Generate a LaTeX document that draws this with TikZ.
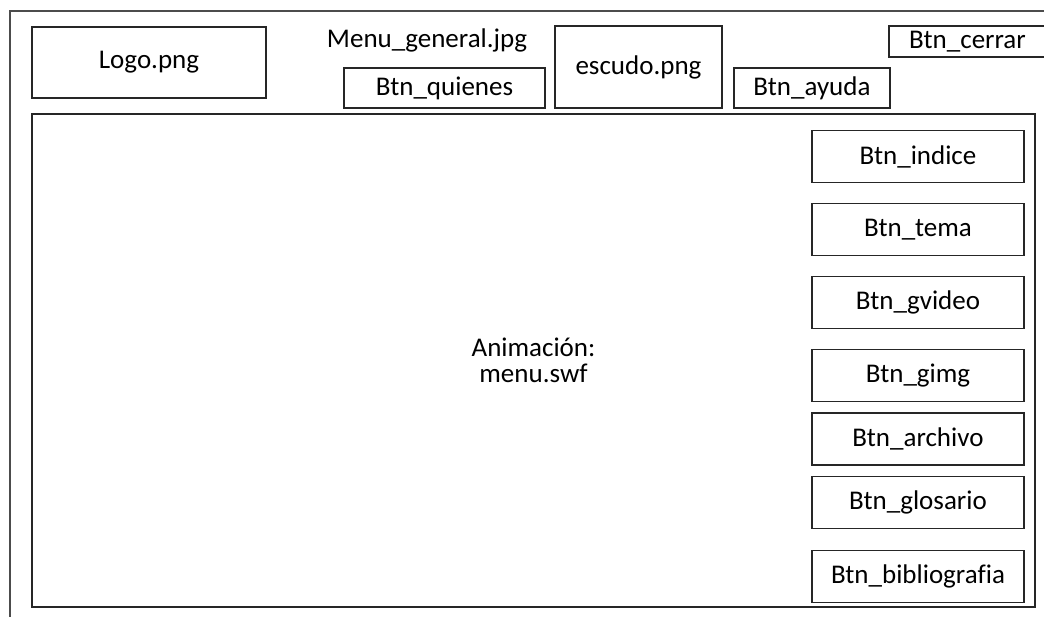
\documentclass[tikz,border=0pt]{standalone}
\usepackage{fontspec}
\setmainfont{Carlito}[Ligatures=NoCommon]
\usepackage{xcolor}
\usepackage{tikz}
\usetikzlibrary{positioning}
\tikzset{
  blk/.style   ={draw=black!85, rectangle, line width=1.1pt, align=center, inner sep=0pt, font=\fontsize{27}{26}\selectfont},
  lbl/.style   ={align=center, inner sep=0pt, font=\fontsize{27}{26}\selectfont},
  btn/.style   ={blk, minimum width=212pt, minimum height=52pt},
  tbtn/.style  ={blk, minimum height=40pt},
  frm/.style   ={draw=black!70, rectangle, line width=2pt},
}

\begin{document}
\begin{tikzpicture}[x=1pt, y=-1pt, node distance=20pt]
  \clip (0,0) rectangle (1044,616);
  \node[frm, anchor=north west, minimum width=1060pt, minimum height=630pt] (frame) at (9,10) {};

  \node[blk, minimum width=234pt, minimum height=71pt] (logo) at (149,62.5) {Logo.png};
  \node[lbl] (menu) at (427,40) {Menu\_general.jpg};
  \node[tbtn, minimum width=201pt] (quienes) at (444.5,88) {Btn\_quienes};
  \node[blk, minimum width=167pt, minimum height=82pt] (escudo) at (638.5,67) {escudo.png};
  \node[tbtn, minimum width=156pt] (ayuda) at (812,88) {Btn\_ayuda};
  \node[blk, minimum width=157pt, minimum height=31pt] (cerrar) at (967.5,41.5) {Btn\_cerrar};

  \node[blk, minimum width=1003pt, minimum height=493pt] (anim) at (533.5,360.5) {Animación:\\menu.swf};

  \node[btn, anchor=north] (indice) at (918,130) {Btn\_indice};
  \node[btn, below=of indice] (tema) {Btn\_tema};
  \node[btn, below=of tema] (gvideo) {Btn\_gvideo};
  \node[btn, below=of gvideo] (gimg) {Btn\_gimg};
  \node[btn, below=10pt of gimg] (archivo) {Btn\_archivo};
  \node[btn, below=10pt of archivo] (glosario) {Btn\_glosario};
  \node[btn, below=21pt of glosario] (biblio) {Btn\_bibliografia};
\end{tikzpicture}
\end{document}
